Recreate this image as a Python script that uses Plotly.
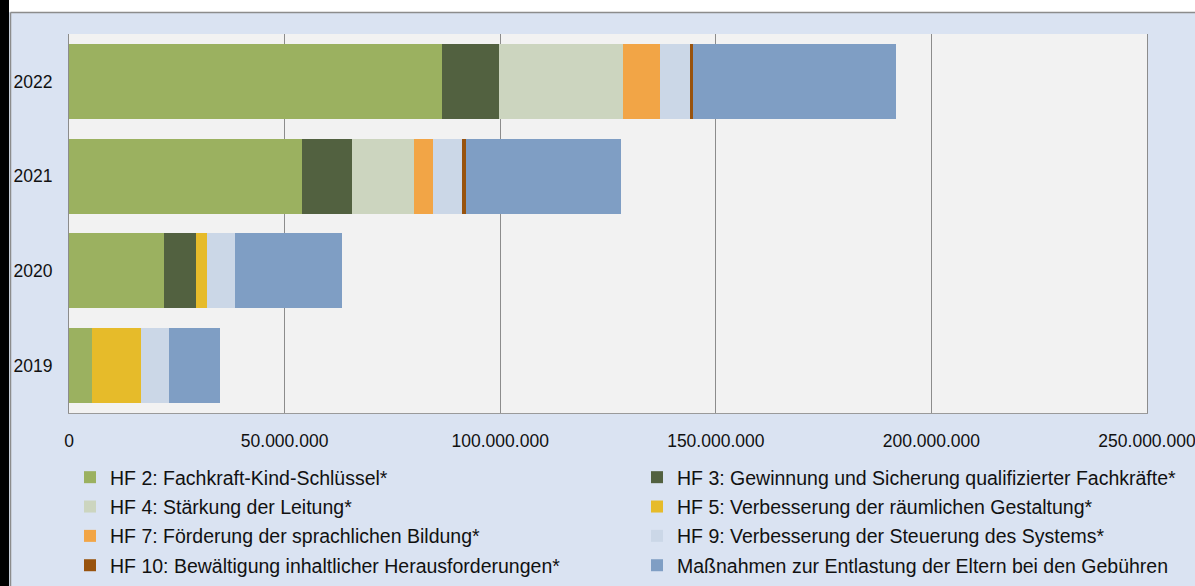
import plotly.graph_objects as go

years = ["2019", "2020", "2021", "2022"]

series_names = [
    "HF 2: Fachkraft-Kind-Schlüssel*",
    "HF 3: Gewinnung und Sicherung qualifizierter Fachkräfte*",
    "HF 4: Stärkung der Leitung*",
    "HF 5: Verbesserung der räumlichen Gestaltung*",
    "HF 7: Förderung der sprachlichen Bildung*",
    "HF 9: Verbesserung der Steuerung des Systems*",
    "HF 10: Bewältigung inhaltlicher Herausforderungen*",
    "Maßnahmen zur Entlastung der Eltern bei den Gebühren",
]

# values per year (2019, 2020, 2021, 2022), in euro
hf2 = [5_300_000, 22_000_000, 54_000_000, 86_500_000]
hf3 = [0, 7_400_000, 11_700_000, 13_300_000]
hf4 = [0, 0, 14_400_000, 28_700_000]
hf5 = [11_400_000, 2_600_000, 0, 0]
hf7 = [0, 0, 4_200_000, 8_500_000]
hf9 = [6_400_000, 6_400_000, 6_800_000, 7_000_000]
hf10 = [0, 0, 1_000_000, 800_000]
eltern = [11_900_000, 25_000_000, 36_000_000, 47_000_000]

series_values = [hf2, hf3, hf4, hf5, hf7, hf9, hf10, eltern]
colors = ["#9bb160", "#526140", "#ccd5bf", "#e6bb2a", "#f2a546", "#cbd7e7", "#98530e", "#7f9ec4"]
legend_ids = ["legend", "legend2", "legend", "legend2", "legend", "legend2", "legend", "legend2"]

tick_vals = [0, 50_000_000, 100_000_000, 150_000_000, 200_000_000, 250_000_000]
tick_text = ["0", "50.000.000", "100.000.000", "150.000.000", "200.000.000", "250.000.000"]

W, H = 1195, 586
ML, MR, MT, MB = 69, 48, 34, 173
PW = W - ML - MR
PH = H - MT - MB


def px(x):
    return (x - ML) / PW


def py(y):
    return (H - MB - y) / PH


fig = go.Figure()
for name, vals, col, lg in zip(series_names, series_values, colors, legend_ids):
    fig.add_trace(go.Bar(
        y=years, x=vals, name=name, orientation="h",
        marker=dict(color=col, line=dict(width=0)),
        legend=lg, legendgroup=name,
    ))

font_family = "Liberation Sans, Arial, sans-serif"
LEG_FONT = 19.5

fig.update_layout(
    width=W, height=H, autosize=False,
    barmode="stack", bargap=0.21,
    paper_bgcolor="#dae3f2", plot_bgcolor="#f2f2f2",
    margin=dict(l=ML, r=MR, t=MT, b=MB, pad=0, autoexpand=False),
    font=dict(family=font_family, size=17.5, color="#111111"),
    xaxis=dict(
        range=[0, 250_000_000], tickvals=tick_vals, ticktext=tick_text,
        showgrid=True, gridcolor="#8c8c8c", gridwidth=1, automargin=False,
        zeroline=False, showline=True, linecolor="#9a9a9a", linewidth=1,
        ticks="", ticklabelstandoff=12, ticklabeloverflow="allow",
        tickfont=dict(size=17.5, color="#111111"),
    ),
    yaxis=dict(
        categoryorder="array", categoryarray=years, automargin=False,
        showline=True, linecolor="#8c8c8c", linewidth=1, mirror=True,
        showgrid=False, zeroline=False, ticks="", ticklabelstandoff=12,
        tickfont=dict(size=17.5, color="#111111"),
    ),
    legend=dict(
        x=px(70), y=py(458), xanchor="left", yanchor="top",
        orientation="v", bgcolor="rgba(0,0,0,0)",
        font=dict(size=LEG_FONT, color="#111111"),
        tracegroupgap=1, itemwidth=30, traceorder="grouped",
    ),
    legend2=dict(
        x=px(637), y=py(458), xanchor="left", yanchor="top",
        orientation="v", bgcolor="rgba(0,0,0,0)",
        font=dict(size=LEG_FONT, color="#111111"),
        tracegroupgap=1, itemwidth=30, traceorder="grouped",
    ),
    shapes=[
        dict(type="rect", xref="paper", yref="paper", x0=px(9), x1=px(W + 5), y0=py(12), y1=py(-5),
             fillcolor="white", line=dict(width=0), layer="below"),
        dict(type="rect", xref="paper", yref="paper", x0=px(-5), x1=px(9), y0=py(H + 5), y1=py(-5),
             fillcolor="black", line=dict(width=0), layer="below"),
        dict(type="line", xref="paper", yref="paper", x0=px(10.5), x1=px(W + 5), y0=py(12.5), y1=py(12.5),
             line=dict(color="#8c8c8c", width=1.5)),
        dict(type="line", xref="paper", yref="paper", x0=px(10.5), x1=px(10.5), y0=py(12.5), y1=py(H + 5),
             line=dict(color="#8c8c8c", width=1.5)),
    ],
)

fig.write_html(
    "out.html",
    config={"displayModeBar": False, "responsive": False},
    post_script="document.body.style.margin='0';document.body.style.overflow='hidden';",
)
